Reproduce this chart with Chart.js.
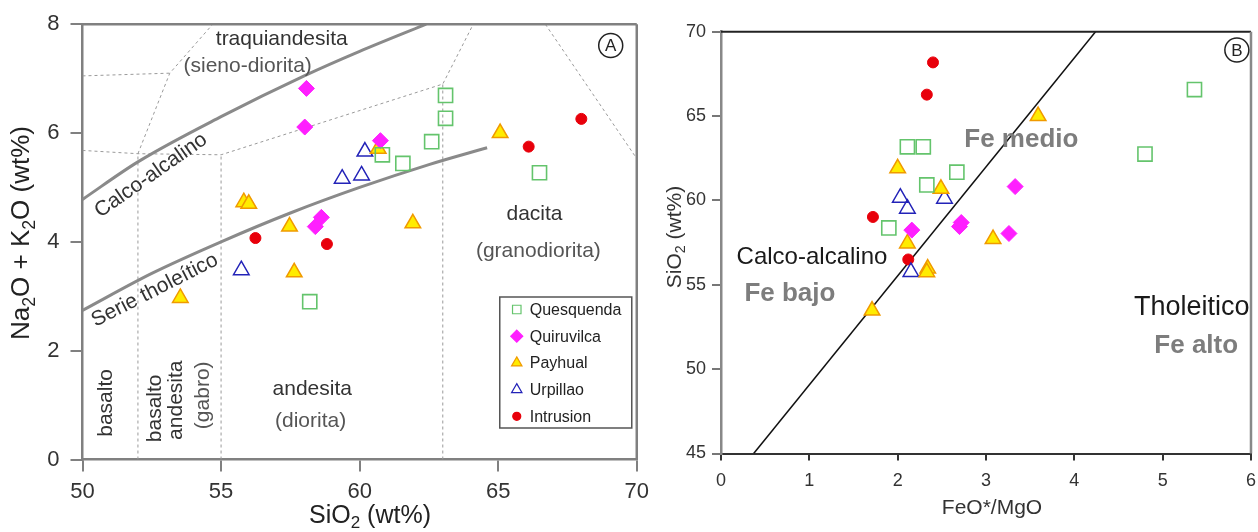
<!DOCTYPE html>
<html>
<head>
<meta charset="utf-8">
<script src="https://cdn.jsdelivr.net/npm/chart.js@4.4.0/dist/chart.umd.min.js"></script>
<style>
body{margin:0;background:#fff;width:1258px;height:532px;overflow:hidden;position:relative}
#boxA{position:absolute;left:0;top:0;width:656px;height:532px}
#boxB{position:absolute;left:660px;top:0;width:606px;height:532px}
</style>
</head>
<body>
<div id="boxA"><canvas id="tasChart" width="656" height="532"></canvas></div>
<div id="boxB"><canvas id="feChart" width="606" height="532"></canvas></div>
<script>
const FONT = '"Liberation Sans", Arial, Helvetica, sans-serif';
Chart.defaults.font.family = FONT;

// ---- panel A : SiO2 vs Na2O+K2O (TAS)
const quesquendaSiO2 = [63.1, 63.1, 62.6, 61.56, 60.82, 66.49, 58.2];
const quesquendaAlk  = [6.69, 6.27, 5.84, 5.44, 5.60, 5.27, 2.90];
const quiruvilcaSiO2 = [58.08, 58.02, 60.75, 58.62, 58.40];
const quiruvilcaAlk  = [6.82, 6.11, 5.86, 4.45, 4.28];
const payhualSiO2    = [65.07, 60.67, 55.82, 56.0, 57.47, 61.92, 57.64, 53.53];
const payhualAlk     = [6.0, 5.71, 4.73, 4.70, 4.28, 4.34, 3.44, 2.97];
const urpillaoSiO2   = [60.19, 59.37, 60.07, 55.73];
const urpillaoAlk    = [5.66, 5.16, 5.22, 3.48];
const intrusionSiO2  = [68.0, 66.1, 56.24, 58.82];
const intrusionAlk   = [6.26, 5.75, 4.07, 3.96];

// field boundaries (SiO2, alkalis)
const alkalineCurve   = [[50,4.78],[52,5.47],[55,6.3],[58,7.05],[60,7.5],[62.4,8.0]];
const tholeiiticCurve = [[50,2.74],[52.5,3.42],[55,4.0],[57.5,4.53],[60,5.0],[62.5,5.42],[64.6,5.73]];
const tasFieldLines = [
  [[50,7.05],[53.15,7.1]],
  [[52,5.62],[53.15,7.1],[54.7,8]],
  [[50,5.68],[52,5.62],[55,5.6],[63,6.9],[64.1,8]],
  [[52,0],[52,5.62]],
  [[55,0],[55,5.6]],
  [[63,0],[63,6.9]],
  [[66.7,8],[70,5.53]]
];

// ---- panel B : FeO*/MgO vs SiO2
const quesquendaFe = [2.11, 2.29, 2.33, 2.67, 1.90, 4.80, 5.36];
const quesquendaSi = [63.18, 63.18, 60.92, 61.67, 58.37, 62.75, 66.57];
const quiruvilcaFe = [2.16, 2.72, 2.70, 3.33, 3.26];
const quiruvilcaSi = [58.24, 58.69, 58.45, 60.82, 58.04];
const payhualFe    = [3.59, 2.0, 2.49, 2.11, 3.08, 2.34, 2.33, 1.71];
const payhualSi    = [65.0, 61.9, 60.69, 57.45, 57.71, 55.96, 55.75, 53.47];
const urpillaoFe   = [2.03, 2.11, 2.53, 2.15];
const urpillaoSi   = [60.16, 59.51, 60.1, 55.76];
const intrusionFe  = [2.40, 2.33, 1.72, 2.12];
const intrusionSi  = [68.18, 66.27, 59.02, 56.5];
const calcTholLine = [[0.37,45],[4.24,70]];

const seriesNames = ['Quesquenda', 'Quiruvilca', 'Payhual', 'Urpillao', 'Intrusion'];

// marker look per series
const marks = {
  Quesquenda: {style:'rect', r:10, fill:'rgba(255,255,255,0)', line:'#64c46c', lw:1.6},
  Quiruvilca: {style:'rectRot', r:8, fill:'#ff1fff', line:'#ff1fff', lw:1},
  Payhual:    {style:'triangle', r:9, fill:'#ffec00', line:'#f09a00', lw:1.5},
  Urpillao:   {style:'triangle', r:9, fill:'rgba(255,255,255,0)', line:'#2323b8', lw:1.5},
  Intrusion:  {style:'circle', r:5.5, fill:'#e8000b', line:'#e8000b', lw:1}
};

function pts(xs, ys){ return xs.map((x, i) => ({x: x, y: ys[i]})); }
function pairs(arr){ return arr.map(p => ({x: p[0], y: p[1]})); }

function pointSet(name, data){
  const m = marks[name];
  return {
    label: name, data: data, pointStyle: m.style, pointRadius: m.r, pointHoverRadius: m.r,
    backgroundColor: m.fill, borderColor: m.line, pointBorderWidth: m.lw, showLine: false
  };
}
function lineSet(data, color, width, dash, smooth){
  return {
    data: data, showLine: true, pointRadius: 0, pointHoverRadius: 0, borderColor: color,
    borderWidth: width, borderDash: dash || [], fill: false,
    cubicInterpolationMode: smooth ? 'monotone' : 'default', tension: 0
  };
}

function drawMarker(ctx, style, x, y, r, fill, stroke, lw){
  ctx.beginPath();
  if (style === 'rect') ctx.rect(x - r*0.707, y - r*0.707, r*1.414, r*1.414);
  else if (style === 'rectRot'){ ctx.moveTo(x, y-r); ctx.lineTo(x+r, y); ctx.lineTo(x, y+r); ctx.lineTo(x-r, y); ctx.closePath(); }
  else if (style === 'triangle'){ ctx.moveTo(x, y-r); ctx.lineTo(x+r*0.866, y+r*0.5); ctx.lineTo(x-r*0.866, y+r*0.5); ctx.closePath(); }
  else ctx.arc(x, y, r, 0, Math.PI*2);
  ctx.fillStyle = fill; ctx.fill();
  ctx.strokeStyle = stroke; ctx.lineWidth = lw; ctx.stroke();
}

// text with subscripts: parts = [[text, isSub], ...]
function drawRich(ctx, parts, x, y, size, color, angle){
  ctx.save();
  ctx.translate(x, y);
  ctx.rotate((angle || 0) * Math.PI / 180);
  ctx.fillStyle = color;
  ctx.textBaseline = 'middle';
  ctx.textAlign = 'left';
  let total = 0;
  parts.forEach(p => { ctx.font = (p[1] ? size*0.68 : size) + 'px ' + FONT; total += ctx.measureText(p[0]).width; });
  let cx = -total / 2;
  parts.forEach(p => {
    ctx.font = (p[1] ? size*0.68 : size) + 'px ' + FONT;
    ctx.fillText(p[0], cx, p[1] ? size*0.3 : 0);
    cx += ctx.measureText(p[0]).width;
  });
  ctx.restore();
}

function drawLabels(chart, list){
  const ctx = chart.ctx, sx = chart.scales.x, sy = chart.scales.y;
  list.forEach(l => {
    ctx.save();
    ctx.translate(sx.getPixelForValue(l.x), sy.getPixelForValue(l.y));
    ctx.rotate((l.rot || 0) * Math.PI / 180);
    ctx.font = (l.bold ? 'bold ' : '') + (l.size || 21) + 'px ' + FONT;
    ctx.fillStyle = l.c || '#333';
    ctx.textAlign = 'center';
    ctx.textBaseline = 'middle';
    ctx.fillText(l.t, 0, 0);
    ctx.restore();
  });
}

function circledLetter(chart, letter, xv, yv){
  const ctx = chart.ctx;
  const x = chart.scales.x.getPixelForValue(xv), y = chart.scales.y.getPixelForValue(yv);
  ctx.save();
  ctx.beginPath(); ctx.arc(x, y, 12, 0, Math.PI*2);
  ctx.strokeStyle = '#222'; ctx.lineWidth = 1.5; ctx.stroke();
  ctx.font = '17px ' + FONT; ctx.fillStyle = '#222';
  ctx.textAlign = 'center'; ctx.textBaseline = 'middle';
  ctx.fillText(letter, x, y + 1);
  ctx.restore();
}

function frame(chart, topColor, rightColor, topW, rightW){
  const ctx = chart.ctx, a = chart.chartArea;
  ctx.save();
  ctx.strokeStyle = topColor; ctx.lineWidth = topW;
  ctx.beginPath(); ctx.moveTo(a.left, a.top); ctx.lineTo(a.right, a.top); ctx.stroke();
  ctx.strokeStyle = rightColor; ctx.lineWidth = rightW;
  ctx.beginPath(); ctx.moveTo(a.right, a.top); ctx.lineTo(a.right, a.bottom); ctx.stroke();
  ctx.restore();
}

const tasLabels = [
  {t:'traquiandesita', x:57.19, y:7.72, c:'#333'},
  {t:'(sieno-diorita)', x:55.96, y:7.22, c:'#555'},
  {t:'dacita', x:66.31, y:4.50, c:'#333'},
  {t:'(granodiorita)', x:66.45, y:3.83, c:'#555'},
  {t:'andesita', x:58.29, y:1.29, c:'#333'},
  {t:'(diorita)', x:58.23, y:0.71, c:'#555'},
  {t:'basalto', x:50.85, y:1.04, rot:-90, c:'#333'},
  {t:'basalto', x:52.61, y:0.94, rot:-90, c:'#333'},
  {t:'andesita', x:53.37, y:1.09, rot:-90, c:'#333'},
  {t:'(gabro)', x:54.34, y:1.18, rot:-90, c:'#555'},
  {t:'Calco-alcalino', x:52.47, y:5.22, rot:-35, c:'#333'},
  {t:'Serie tholeítico', x:52.61, y:3.11, rot:-27, c:'#333'}
];

const feLabels = [
  {t:'Fe medio', x:3.40, y:63.6, c:'#7d7d7d', bold:true, size:26},
  {t:'Calco-alcalino', x:1.03, y:56.63, c:'#1a1a1a', size:24},
  {t:'Fe bajo', x:0.78, y:54.45, c:'#7d7d7d', bold:true, size:26},
  {t:'Tholeitico', x:5.33, y:53.68, c:'#1a1a1a', size:27},
  {t:'Fe alto', x:5.38, y:51.38, c:'#7d7d7d', bold:true, size:26}
];

const tasDecor = {
  id: 'tasDecor',
  afterDraw(chart){
    const ctx = chart.ctx, a = chart.chartArea;
    frame(chart, '#808080', '#808080', 2.5, 2.5);
    drawLabels(chart, tasLabels);
    circledLetter(chart, 'A', 69.06, 7.61);
    drawRich(ctx, [['Na',0],['2',1],['O + K',0],['2',1],['O (wt%)',0]], 22, 233, 26, '#222', -90);
    drawRich(ctx, [['SiO',0],['2',1],[' (wt%)',0]], 370, 516, 25, '#222', 0);
    // legend box
    const bx = a.right - 137, by = a.bottom - 162.5, bw = 132, bh = 131;
    ctx.save();
    ctx.fillStyle = '#fff'; ctx.fillRect(bx, by, bw, bh);
    ctx.strokeStyle = '#555'; ctx.lineWidth = 1.5; ctx.strokeRect(bx, by, bw, bh);
    seriesNames.forEach((n, i) => {
      const m = marks[n], y = by + 12.5 + i * 26.7;
      drawMarker(ctx, m.style, bx + 17, y, m.style === 'circle' ? 4 : 6, m.fill, m.line, 1.2);
      ctx.font = '16px ' + FONT; ctx.fillStyle = '#222';
      ctx.textAlign = 'left'; ctx.textBaseline = 'middle';
      ctx.fillText(n, bx + 30, y + 1);
    });
    ctx.restore();
  }
};

const feDecor = {
  id: 'feDecor',
  afterDraw(chart){
    const ctx = chart.ctx;
    frame(chart, '#222', '#888', 2, 2.5);
    drawLabels(chart, feLabels);
    circledLetter(chart, 'B', 5.84, 68.92);
    drawRich(ctx, [['SiO',0],['2',1],[' (wt%)',0]], 15, 237, 21, '#333', -90);
    drawRich(ctx, [['FeO*/MgO',0]], 332, 508, 21, '#333', 0);
  }
};

new Chart(document.getElementById('tasChart'), {
  type: 'scatter',
  data: {
    datasets: [
      pointSet('Quesquenda', pts(quesquendaSiO2, quesquendaAlk)),
      pointSet('Quiruvilca', pts(quiruvilcaSiO2, quiruvilcaAlk)),
      pointSet('Payhual', pts(payhualSiO2, payhualAlk)),
      pointSet('Urpillao', pts(urpillaoSiO2, urpillaoAlk)),
      pointSet('Intrusion', pts(intrusionSiO2, intrusionAlk)),
      lineSet(pairs(alkalineCurve), '#8a8a8a', 3, null, true),
      lineSet(pairs(tholeiiticCurve), '#8a8a8a', 3, null, true)
    ].concat(tasFieldLines.map(l => lineSet(pairs(l), '#9a9a9a', 1, [3, 3], false)))
  },
  options: {
    responsive: false, animation: false,
    layout: {padding: {top: 23.5, right: 0, bottom: 0, left: 0}},
    plugins: {legend: {display: false}, tooltip: {enabled: false}},
    scales: {
      x: {
        type: 'linear', min: 50, max: 70,
        ticks: {stepSize: 5, color: '#333', font: {size: 22}, padding: 7},
        grid: {display: true, drawOnChartArea: false, tickLength: 12, color: '#808080', lineWidth: 2},
        border: {display: true, color: '#808080', width: 2.5},
        afterFit(s){ s.height = 72.5; }
      },
      y: {
        type: 'linear', min: 0, max: 8,
        ticks: {stepSize: 2, color: '#333', font: {size: 22}, padding: 11},
        grid: {display: true, drawOnChartArea: false, tickLength: 12, color: '#808080', lineWidth: 2},
        border: {display: true, color: '#808080', width: 2.5},
        afterFit(s){ s.width = 82.5; }
      }
    }
  },
  plugins: [tasDecor]
});

new Chart(document.getElementById('feChart'), {
  type: 'scatter',
  data: {
    datasets: [
      pointSet('Quesquenda', pts(quesquendaFe, quesquendaSi)),
      pointSet('Quiruvilca', pts(quiruvilcaFe, quiruvilcaSi)),
      pointSet('Payhual', pts(payhualFe, payhualSi)),
      pointSet('Urpillao', pts(urpillaoFe, urpillaoSi)),
      pointSet('Intrusion', pts(intrusionFe, intrusionSi)),
      lineSet(pairs(calcTholLine), '#111', 1.5, null, false)
    ]
  },
  options: {
    responsive: false, animation: false,
    layout: {padding: {top: 31.7, right: 0, bottom: 0, left: 0}},
    plugins: {legend: {display: false}, tooltip: {enabled: false}},
    scales: {
      x: {
        type: 'linear', min: 0, max: 6,
        ticks: {stepSize: 1, color: '#333', font: {size: 18}, padding: 10},
        grid: {display: true, drawOnChartArea: false, tickLength: 7, color: '#333', lineWidth: 2},
        border: {display: true, color: '#333', width: 2},
        afterFit(s){ s.height = 78.5; }
      },
      y: {
        type: 'linear', min: 45, max: 70,
        ticks: {stepSize: 5, color: '#333', font: {size: 18}, padding: 6},
        grid: {display: true, drawOnChartArea: false, tickLength: 9, color: '#777', lineWidth: 2},
        border: {display: true, color: '#888', width: 2.5},
        afterFit(s){ s.width = 61; }
      }
    }
  },
  plugins: [feDecor]
});
</script>
</body>
</html>
